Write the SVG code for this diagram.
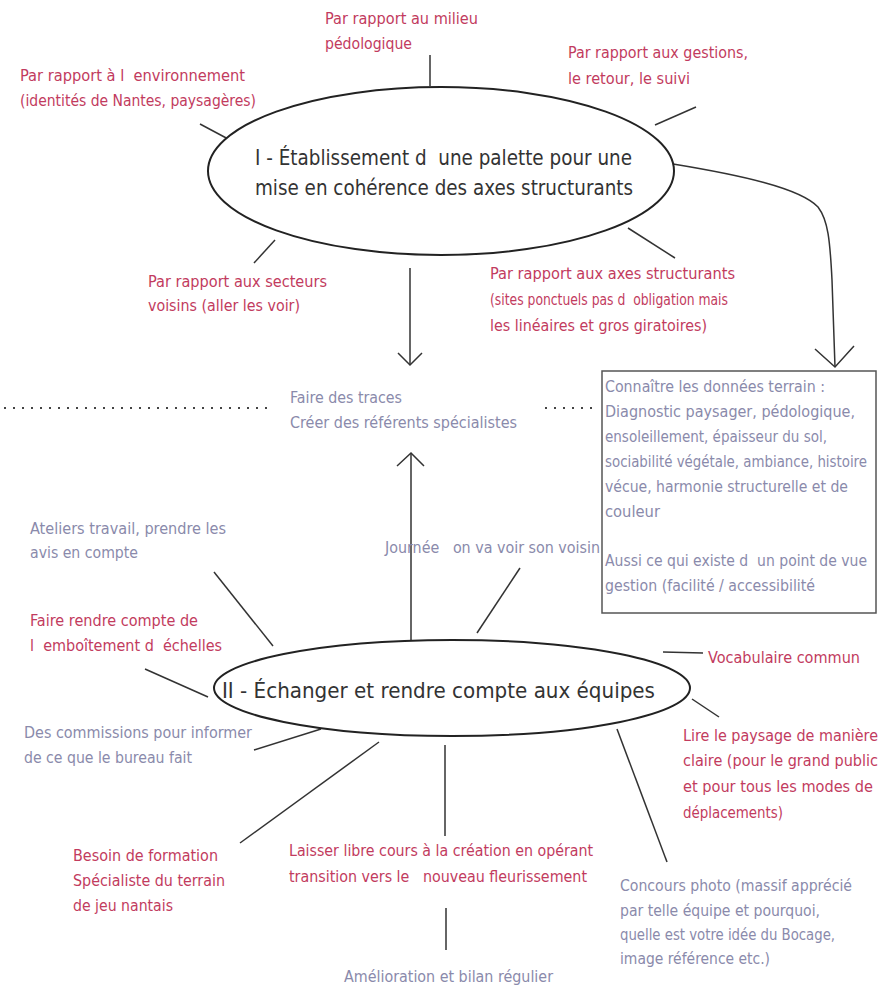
<svg xmlns="http://www.w3.org/2000/svg" width="878" height="987" viewBox="0 0 878 987">
<style>
text{font-family:"DejaVu Sans Condensed","Liberation Sans Narrow","Liberation Sans",sans-serif;font-size:16px;white-space:pre}
.r{fill:#c23b5e}
.g{fill:#8a8aab}
.m{fill:#333;font-size:22px}
.ln{stroke:#333;stroke-width:1.5;fill:none}
.el{stroke:#222;stroke-width:2;fill:#fff}
.dot{stroke:#444;stroke-width:2;stroke-dasharray:2 7;fill:none}
</style>
<rect width="878" height="987" fill="#fff"/>

<g id="connectors">
<line class="ln" x1="430" y1="55" x2="430" y2="86"/>
<line class="ln" x1="200" y1="124" x2="230" y2="140"/>
<line class="ln" x1="655" y1="125" x2="696" y2="107"/>
<line class="ln" x1="254" y1="263" x2="275" y2="240"/>
<line class="ln" x1="628" y1="228" x2="675" y2="258"/>
<line class="ln" x1="410" y1="268" x2="410" y2="365"/>
<polyline class="ln" points="398,353 410,365 422,353"/>
<path class="ln" d="M673,164 C740,175 800,188 818,207 C828,220 830,240 832,280 L835,367"/>
<polyline class="ln" points="815,349 835,367 854,346"/>
<line class="dot" x1="4" y1="408" x2="268" y2="408"/>
<line class="dot" x1="545" y1="408" x2="592" y2="408"/>
<line class="ln" x1="411" y1="643" x2="411" y2="453"/>
<polyline class="ln" points="397,466 411,453 424,466"/>
<line class="ln" x1="520" y1="568" x2="477" y2="633"/>
<line class="ln" x1="214" y1="572" x2="273" y2="646"/>
<line class="ln" x1="145" y1="669" x2="208" y2="697"/>
<line class="ln" x1="663" y1="652" x2="703" y2="653"/>
<line class="ln" x1="692" y1="699" x2="719" y2="717"/>
<line class="ln" x1="254" y1="750" x2="321" y2="729"/>
<line class="ln" x1="240" y1="843" x2="379" y2="742"/>
<line class="ln" x1="445" y1="745" x2="445" y2="836"/>
<line class="ln" x1="617" y1="729" x2="667" y2="862"/>
<line class="ln" x1="446" y1="908" x2="446" y2="950"/>
</g>

<g id="node-axes">
<ellipse class="el" cx="441" cy="171" rx="233" ry="84"/>
<text class="m" x="255" y="165" textLength="377" lengthAdjust="spacingAndGlyphs">I - Établissement d  une palette pour une</text>
<text class="m" x="255" y="195" textLength="378" lengthAdjust="spacingAndGlyphs">mise en cohérence des axes structurants</text>
</g>

<g id="node-echanger">
<ellipse class="el" cx="452" cy="688" rx="238" ry="48"/>
<text class="m" x="222" y="698" textLength="433" lengthAdjust="spacingAndGlyphs">II - Échanger et rendre compte aux équipes</text>
</g>

<g id="node-pedologique">
<text class="r" x="325" y="24" textLength="153" lengthAdjust="spacingAndGlyphs">Par rapport au milieu</text>
<text class="r" x="325" y="49" textLength="87" lengthAdjust="spacingAndGlyphs">pédologique</text>
</g>
<g id="node-environnement">
<text class="r" x="20" y="81" textLength="225" lengthAdjust="spacingAndGlyphs">Par rapport à l  environnement</text>
<text class="r" x="20" y="106" textLength="236" lengthAdjust="spacingAndGlyphs">(identités de Nantes, paysagères)</text>
</g>
<g id="node-gestions">
<text class="r" x="568" y="58" textLength="180" lengthAdjust="spacingAndGlyphs">Par rapport aux gestions,</text>
<text class="r" x="568" y="84" textLength="122" lengthAdjust="spacingAndGlyphs">le retour, le suivi</text>
</g>
<g id="node-secteurs">
<text class="r" x="148" y="287" textLength="179" lengthAdjust="spacingAndGlyphs">Par rapport aux secteurs</text>
<text class="r" x="148" y="311" textLength="152" lengthAdjust="spacingAndGlyphs">voisins (aller les voir)</text>
</g>
<g id="node-structurants">
<text class="r" x="490" y="279" textLength="245" lengthAdjust="spacingAndGlyphs">Par rapport aux axes structurants</text>
<text class="r" x="490" y="305" textLength="238" lengthAdjust="spacingAndGlyphs">(sites ponctuels pas d  obligation mais</text>
<text class="r" x="490" y="331" textLength="217" lengthAdjust="spacingAndGlyphs">les linéaires et gros giratoires)</text>
</g>
<g id="node-traces">
<text class="g" x="290" y="403" textLength="112" lengthAdjust="spacingAndGlyphs">Faire des traces</text>
<text class="g" x="290" y="428" textLength="227" lengthAdjust="spacingAndGlyphs">Créer des référents spécialistes</text>
</g>
<g id="node-terrain">
<rect x="602" y="371" width="274" height="242" fill="#fff" stroke="#555" stroke-width="1.5"/>
<text class="g" x="605" y="392" textLength="220" lengthAdjust="spacingAndGlyphs">Connaître les données terrain :</text>
<text class="g" x="605" y="417" textLength="250" lengthAdjust="spacingAndGlyphs">Diagnostic paysager, pédologique,</text>
<text class="g" x="605" y="442" textLength="222" lengthAdjust="spacingAndGlyphs">ensoleillement, épaisseur du sol,</text>
<text class="g" x="605" y="467" font-size="15" textLength="262" lengthAdjust="spacingAndGlyphs">sociabilité végétale, ambiance, histoire</text>
<text class="g" x="605" y="492" textLength="243" lengthAdjust="spacingAndGlyphs">vécue, harmonie structurelle et de</text>
<text class="g" x="605" y="517" textLength="55" lengthAdjust="spacingAndGlyphs">couleur</text>
<text class="g" x="605" y="566" textLength="262" lengthAdjust="spacingAndGlyphs">Aussi ce qui existe d  un point de vue</text>
<text class="g" x="605" y="591" textLength="210" lengthAdjust="spacingAndGlyphs">gestion (facilité / accessibilité</text>
</g>
<g id="node-ateliers">
<text class="g" x="30" y="534" textLength="196" lengthAdjust="spacingAndGlyphs">Ateliers travail, prendre les</text>
<text class="g" x="30" y="558" textLength="108" lengthAdjust="spacingAndGlyphs">avis en compte</text>
</g>
<g id="node-journee">
<text class="g" x="385" y="553" textLength="215" lengthAdjust="spacingAndGlyphs">Journée   on va voir son voisin</text>
</g>
<g id="node-emboitement">
<text class="r" x="30" y="626" textLength="168" lengthAdjust="spacingAndGlyphs">Faire rendre compte de</text>
<text class="r" x="30" y="651" textLength="192" lengthAdjust="spacingAndGlyphs">l  emboîtement d  échelles</text>
</g>
<g id="node-vocabulaire">
<text class="r" x="708" y="663" textLength="152" lengthAdjust="spacingAndGlyphs">Vocabulaire commun</text>
</g>
<g id="node-lire">
<text class="r" x="683" y="741" textLength="195" lengthAdjust="spacingAndGlyphs">Lire le paysage de manière</text>
<text class="r" x="683" y="766" textLength="195" lengthAdjust="spacingAndGlyphs">claire (pour le grand public</text>
<text class="r" x="683" y="792" textLength="190" lengthAdjust="spacingAndGlyphs">et pour tous les modes de</text>
<text class="r" x="683" y="818" textLength="100" lengthAdjust="spacingAndGlyphs">déplacements)</text>
</g>
<g id="node-commissions">
<text class="g" x="24" y="738" textLength="228" lengthAdjust="spacingAndGlyphs">Des commissions pour informer</text>
<text class="g" x="24" y="763" textLength="168" lengthAdjust="spacingAndGlyphs">de ce que le bureau fait</text>
</g>
<g id="node-formation">
<text class="r" x="73" y="861" textLength="145" lengthAdjust="spacingAndGlyphs">Besoin de formation</text>
<text class="r" x="73" y="886" textLength="152" lengthAdjust="spacingAndGlyphs">Spécialiste du terrain</text>
<text class="r" x="73" y="911" textLength="100" lengthAdjust="spacingAndGlyphs">de jeu nantais</text>
</g>
<g id="node-creation">
<text class="r" x="289" y="856" textLength="304" lengthAdjust="spacingAndGlyphs">Laisser libre cours à la création en opérant</text>
<text class="r" x="289" y="882" textLength="298" lengthAdjust="spacingAndGlyphs">transition vers le   nouveau fleurissement</text>
</g>
<g id="node-concours">
<text class="g" x="620" y="891" textLength="232" lengthAdjust="spacingAndGlyphs">Concours photo (massif apprécié</text>
<text class="g" x="620" y="916" textLength="200" lengthAdjust="spacingAndGlyphs">par telle équipe et pourquoi,</text>
<text class="g" x="620" y="940" textLength="215" lengthAdjust="spacingAndGlyphs">quelle est votre idée du Bocage,</text>
<text class="g" x="620" y="964" textLength="150" lengthAdjust="spacingAndGlyphs">image référence etc.)</text>
</g>
<g id="node-amelioration">
<text class="g" x="344" y="982" textLength="209" lengthAdjust="spacingAndGlyphs">Amélioration et bilan régulier</text>
</g>
</svg>
